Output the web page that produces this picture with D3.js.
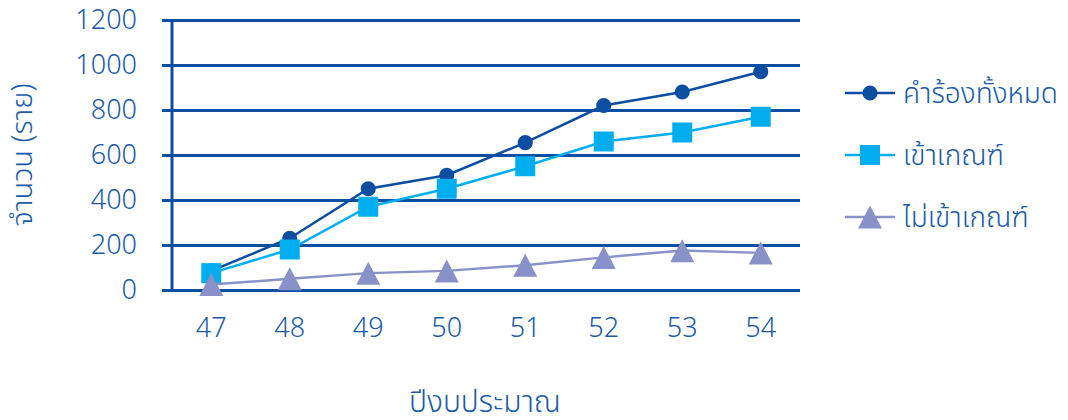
<!DOCTYPE html>
<html>
<head>
<meta charset="utf-8">
<script src="https://cdn.jsdelivr.net/npm/d3@7"></script>
<style>
  html, body { margin: 0; padding: 0; background: #fff; }
  svg text { font-family: "Noto Sans", "Noto Sans Thai", "DejaVu Sans", sans-serif; fill: #1a5aa6; font-weight: 300; }
</style>
</head>
<body>
<svg id="chart" width="1068" height="420"></svg>
<script>
// Fiscal years (Buddhist era, short form)
const years = ["47", "48", "49", "50", "51", "52", "53", "54"];
const yTicks = [0, 200, 400, 600, 800, 1000, 1200];

// Number of cases per year
const allClaims = [85, 230, 450, 510, 655, 820, 880, 970];
const eligible = [75, 180, 370, 450, 550, 660, 700, 770];
const ineligible = [24, 50, 75, 85, 110, 145, 175, 165];

const seriesNames = ["คำร้องทั้งหมด", "เข้าเกณฑ์", "ไม่เข้าเกณฑ์"];
const seriesColors = ["#0b4ea2", "#00aeef", "#8891c8"];

// Marker shapes, each centred on its bounding box
const markerPaths = [
  d3.symbol().type(d3.symbolCircle).size(180)(),
  "M-10,-10H10V10H-10Z",
  "M0,-11.5L12,11.5H-12Z"
];

const series = [allClaims, eligible, ineligible].map((vals, i) => ({
  name: seriesNames[i], color: seriesColors[i], marker: markerPaths[i],
  points: years.map((y, j) => ({ year: y, value: vals[j] }))
}));

const svg = d3.select("#chart");
const margin = { left: 172, right: 268, top: 20, bottom: 130 };
const W = 1068, H = 420;

const x = d3.scaleBand().domain(years).range([margin.left, W - margin.right]);
const y = d3.scaleLinear().domain([0, 1200]).range([H - margin.bottom, margin.top]);

const gridColor = "#0b4ea2";

// Horizontal gridlines with short tick stubs on the left
const yAxis = svg.append("g")
  .attr("transform", `translate(${margin.left},0)`)
  .call(d3.axisLeft(y).tickValues(yTicks).tickFormat(d3.format("d"))
    .tickSize(-(W - margin.right - margin.left)).tickSizeOuter(0).tickPadding(35));
yAxis.select(".domain").remove();
yAxis.selectAll(".tick line").attr("stroke", gridColor).attr("stroke-width", 3).attr("x1", -10);
yAxis.selectAll(".tick text").attr("font-size", 27).style("fill", "#1a5aa6");

// Vertical axis line
svg.append("line")
  .attr("x1", margin.left).attr("x2", margin.left)
  .attr("y1", y(1200)).attr("y2", y(0))
  .attr("stroke", gridColor).attr("stroke-width", 3);

// Category axis labels
const xAxis = svg.append("g")
  .attr("transform", `translate(0,${y(0)})`)
  .call(d3.axisBottom(x).tickSize(0).tickPadding(28));
xAxis.select(".domain").remove();
xAxis.selectAll(".tick text").attr("font-size", 27).style("fill", "#1a5aa6");

// Series: line then markers
const line = d3.line().x(d => x(d.year) + x.bandwidth() / 2).y(d => y(d.value));
series.forEach(s => {
  const g = svg.append("g");
  g.append("path").datum(s.points)
    .attr("d", line).attr("fill", "none")
    .attr("stroke", s.color).attr("stroke-width", 2.5);
  g.selectAll("path.m").data(s.points).join("path")
    .attr("class", "m")
    .attr("transform", d => `translate(${x(d.year) + x.bandwidth() / 2},${y(d.value)})`)
    .attr("d", s.marker)
    .attr("fill", s.color);
});

// Legend
const legend = svg.append("g").attr("transform", "translate(845,93)");
series.forEach((s, i) => {
  const g = legend.append("g").attr("transform", `translate(0,${i * 62})`);
  g.append("line").attr("x1", 0).attr("x2", 50).attr("stroke", s.color).attr("stroke-width", 2.5);
  g.append("path").attr("transform", "translate(25,0)")
    .attr("d", s.marker).attr("fill", s.color);
  g.append("text").attr("x", 58).attr("dy", "0.35em").attr("font-size", 28).text(s.name);
});

// Axis titles
svg.append("text")
  .attr("transform", `translate(32,${(y(0) + y(1200)) / 2}) rotate(-90)`)
  .attr("text-anchor", "middle").attr("font-size", 29)
  .text("จำนวน (ราย)");
svg.append("text")
  .attr("x", (margin.left + W - margin.right) / 2 - 1).attr("y", 412)
  .attr("text-anchor", "middle").attr("font-size", 30)
  .text("ปีงบประมาณ");
</script>
</body>
</html>
